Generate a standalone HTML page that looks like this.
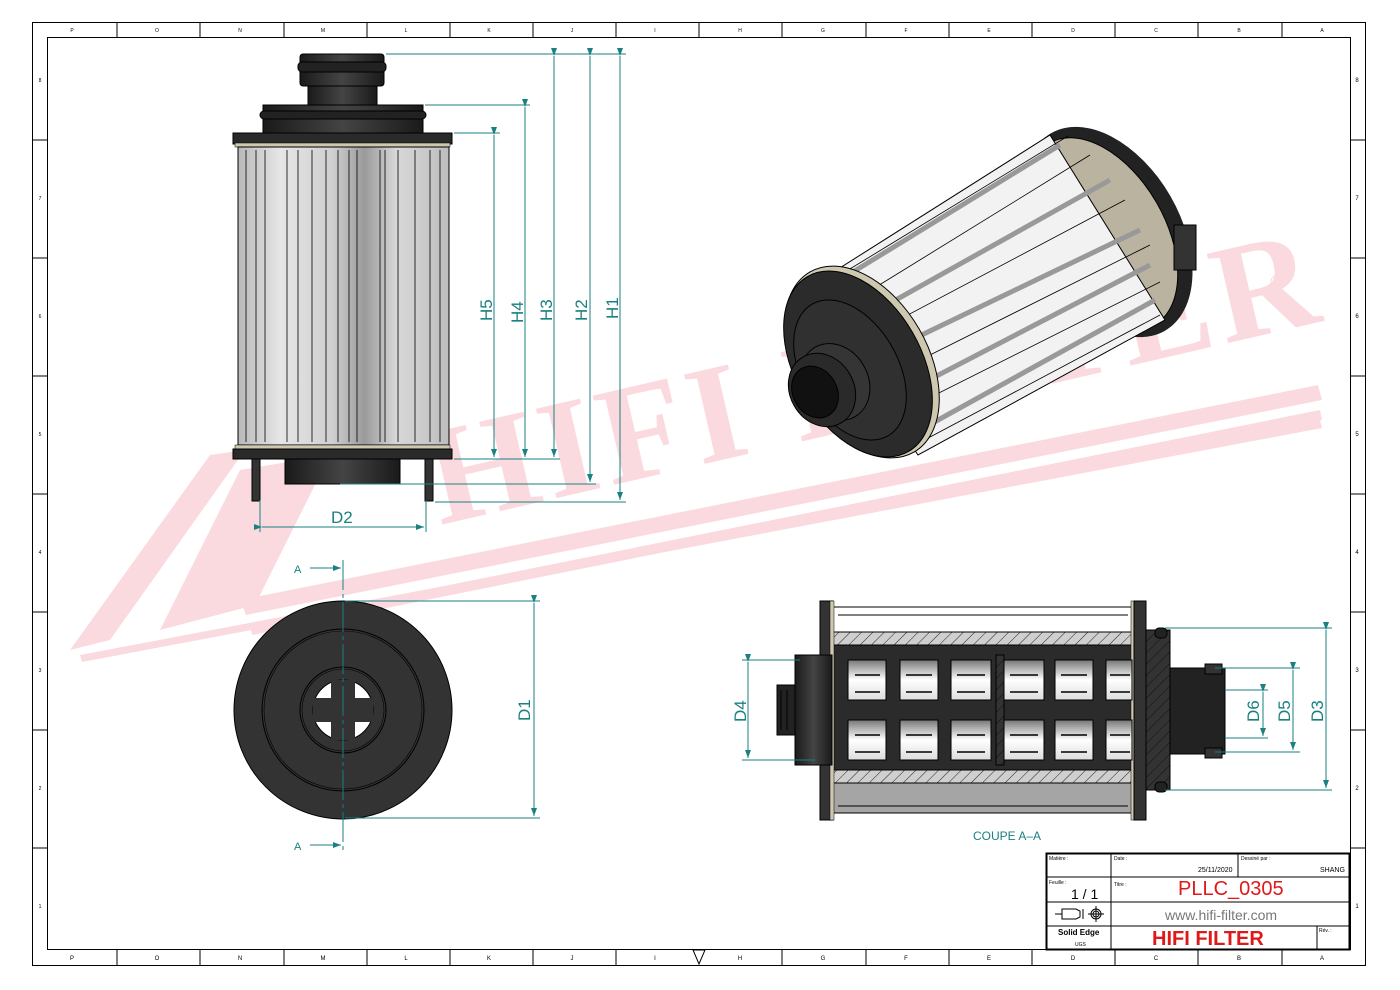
<!DOCTYPE html>
<html><head><meta charset="utf-8"><style>
html,body{margin:0;padding:0;background:#fff}
svg{display:block}
text{font-family:"Liberation Sans",sans-serif}
</style></head><body>
<svg width="1400" height="990" viewBox="0 0 1400 990" xmlns="http://www.w3.org/2000/svg">
<defs>
<linearGradient id="body" x1="0" x2="1" y1="0" y2="0">
<stop offset="0" stop-color="#b8b8b8"/><stop offset="0.2" stop-color="#e6e6e6"/><stop offset="0.45" stop-color="#cfcfcf"/><stop offset="0.6" stop-color="#9a9a9a"/><stop offset="0.75" stop-color="#d8d8d8"/><stop offset="1" stop-color="#bdbdbd"/>
</linearGradient>
<linearGradient id="dark" x1="0" x2="1"><stop offset="0" stop-color="#1a1a1a"/><stop offset="0.5" stop-color="#444"/><stop offset="1" stop-color="#1a1a1a"/></linearGradient>
<linearGradient id="win" x1="0" x2="0" y1="0" y2="1"><stop offset="0" stop-color="#777"/><stop offset="0.5" stop-color="#fff"/><stop offset="1" stop-color="#ddd"/></linearGradient>
<pattern id="hatch" width="8" height="8" patternUnits="userSpaceOnUse" patternTransform="rotate(45)"><rect width="8" height="8" fill="#cfcfcf"/><line x1="0" y1="0" x2="0" y2="8" stroke="#222" stroke-width="1"/></pattern>
<pattern id="hatchd" width="8" height="8" patternUnits="userSpaceOnUse" patternTransform="rotate(45)"><rect width="8" height="8" fill="#333"/><line x1="0" y1="0" x2="0" y2="8" stroke="#111" stroke-width="1"/></pattern>
<marker id="ar" markerWidth="8" markerHeight="6" refX="8" refY="3" orient="auto" markerUnits="userSpaceOnUse"><path d="M0,0 L8,3 L0,6z" fill="#1a8080"/></marker>
</defs>

<!-- frame -->
<rect x="32.5" y="22.5" width="1333" height="943" fill="none" stroke="#000"/>
<rect x="47.5" y="37.5" width="1303" height="912" fill="none" stroke="#000"/>
<g stroke="#000">
<line x1="117" y1="22" x2="117" y2="37"/><line x1="200" y1="22" x2="200" y2="37"/><line x1="284" y1="22" x2="284" y2="37"/><line x1="367" y1="22" x2="367" y2="37"/><line x1="450" y1="22" x2="450" y2="37"/><line x1="533" y1="22" x2="533" y2="37"/><line x1="616" y1="22" x2="616" y2="37"/><line x1="699" y1="22" x2="699" y2="37"/><line x1="782" y1="22" x2="782" y2="37"/><line x1="866" y1="22" x2="866" y2="37"/><line x1="949" y1="22" x2="949" y2="37"/><line x1="1032" y1="22" x2="1032" y2="37"/><line x1="1115" y1="22" x2="1115" y2="37"/><line x1="1198" y1="22" x2="1198" y2="37"/><line x1="1282" y1="22" x2="1282" y2="37"/>
<line x1="117" y1="950" x2="117" y2="966"/><line x1="200" y1="950" x2="200" y2="966"/><line x1="284" y1="950" x2="284" y2="966"/><line x1="367" y1="950" x2="367" y2="966"/><line x1="450" y1="950" x2="450" y2="966"/><line x1="533" y1="950" x2="533" y2="966"/><line x1="616" y1="950" x2="616" y2="966"/><line x1="782" y1="950" x2="782" y2="966"/><line x1="866" y1="950" x2="866" y2="966"/><line x1="949" y1="950" x2="949" y2="966"/><line x1="1032" y1="950" x2="1032" y2="966"/><line x1="1115" y1="950" x2="1115" y2="966"/><line x1="1198" y1="950" x2="1198" y2="966"/><line x1="1282" y1="950" x2="1282" y2="966"/>
<line x1="32" y1="140" x2="47" y2="140"/><line x1="32" y1="258" x2="47" y2="258"/><line x1="32" y1="376" x2="47" y2="376"/><line x1="32" y1="494" x2="47" y2="494"/><line x1="32" y1="612" x2="47" y2="612"/><line x1="32" y1="730" x2="47" y2="730"/><line x1="32" y1="848" x2="47" y2="848"/>
<line x1="1350" y1="140" x2="1366" y2="140"/><line x1="1350" y1="258" x2="1366" y2="258"/><line x1="1350" y1="376" x2="1366" y2="376"/><line x1="1350" y1="494" x2="1366" y2="494"/><line x1="1350" y1="612" x2="1366" y2="612"/><line x1="1350" y1="730" x2="1366" y2="730"/><line x1="1350" y1="848" x2="1366" y2="848"/>
</g>
<g font-size="6" fill="#000" text-anchor="middle">
<text x="72" y="960">P</text><text x="157" y="960">O</text><text x="240" y="960">N</text><text x="323" y="960">M</text><text x="406" y="960">L</text><text x="489" y="960">K</text><text x="572" y="960">J</text><text x="655" y="960">I</text><text x="740" y="960">H</text><text x="823" y="960">G</text><text x="906" y="960">F</text><text x="989" y="960">E</text><text x="1073" y="960">D</text><text x="1156" y="960">C</text><text x="1239" y="960">B</text><text x="1322" y="960">A</text>
<text x="1357" y="82">8</text><text x="1357" y="200">7</text><text x="1357" y="318">6</text><text x="1357" y="436">5</text><text x="1357" y="554">4</text><text x="1357" y="672">3</text><text x="1357" y="790">2</text><text x="1357" y="908">1</text>
</g>
<g font-size="5" fill="#000" text-anchor="middle">
<text x="72" y="32">P</text><text x="157" y="32">O</text><text x="240" y="32">N</text><text x="323" y="32">M</text><text x="406" y="32">L</text><text x="489" y="32">K</text><text x="572" y="32">J</text><text x="655" y="32">I</text><text x="740" y="32">H</text><text x="823" y="32">G</text><text x="906" y="32">F</text><text x="989" y="32">E</text><text x="1073" y="32">D</text><text x="1156" y="32">C</text><text x="1239" y="32">B</text><text x="1322" y="32">A</text>
<text x="40" y="82">8</text><text x="40" y="200">7</text><text x="40" y="318">6</text><text x="40" y="436">5</text><text x="40" y="554">4</text><text x="40" y="672">3</text><text x="40" y="790">2</text><text x="40" y="908">1</text>
</g>
<path d="M693,950 L705,950 L699,964z" fill="none" stroke="#000"/>

<!-- watermark -->
<g fill="#fbdadf">
<polygon points="70,650 210,455 245,450 110,640"/>
<polygon points="160,630 240,470 330,455 255,605"/>
<polygon points="240,600 1318,385 1322,400 246,615"/>
<polygon points="250,625 1320,410 1322,420 252,635"/>
<polygon points="80,655 1320,420 1322,428 82,662"/>
</g>
<text x="0" y="0" transform="translate(440,525) rotate(-13)" style="font-family:'Liberation Serif',serif;font-weight:bold" font-size="140" fill="#fbdadf" letter-spacing="6">HIFI FILTER</text>
<text x="1270" y="290" font-size="22" fill="#fbdadf">®</text>

<!-- FRONT VIEW -->
<rect x="300" y="54" width="84" height="32" rx="3" fill="url(#dark)" stroke="#000"/>
<rect x="298" y="62" width="88" height="10" rx="4" fill="#222" stroke="#000"/>
<rect x="308" y="86" width="69" height="20" fill="url(#dark)" stroke="#000"/>
<rect x="263" y="105" width="160" height="28" fill="url(#dark)" stroke="#000"/>
<rect x="260" y="111" width="166" height="8" rx="4" fill="#222" stroke="#000"/>
<rect x="233" y="133" width="219" height="11" fill="#2a2a2a" stroke="#000"/>
<rect x="235" y="143" width="215" height="4" fill="#cfc8b0" stroke="#000" stroke-width="0.5"/>
<rect x="238" y="147" width="211" height="298" fill="url(#body)" stroke="#000"/>
<g stroke="#000" stroke-width="0.8">
<line x1="246" y1="150" x2="246" y2="442"/><line x1="256" y1="150" x2="256" y2="442"/><line x1="265" y1="150" x2="265" y2="442"/><line x1="287" y1="150" x2="287" y2="442"/><line x1="298" y1="150" x2="298" y2="442"/><line x1="312" y1="150" x2="312" y2="442"/><line x1="326" y1="150" x2="326" y2="442"/><line x1="338" y1="150" x2="338" y2="442"/><line x1="349" y1="150" x2="349" y2="442"/><line x1="357" y1="150" x2="357" y2="442"/><line x1="380" y1="150" x2="380" y2="442"/><line x1="385" y1="150" x2="385" y2="442"/><line x1="398" y1="150" x2="398" y2="442"/><line x1="415" y1="150" x2="415" y2="442"/><line x1="430" y1="150" x2="430" y2="442"/><line x1="440" y1="150" x2="440" y2="442"/>
</g>
<rect x="235" y="445" width="215" height="5" fill="#cfc8b0" stroke="#000" stroke-width="0.5"/>
<rect x="233" y="449" width="219" height="10" fill="#2a2a2a" stroke="#000"/>
<rect x="285" y="459" width="115" height="25" fill="url(#dark)" stroke="#000"/>
<rect x="252" y="459" width="8" height="42" fill="#333" stroke="#000"/>
<rect x="425" y="459" width="8" height="42" fill="#333" stroke="#000"/>

<!-- front dims -->
<g stroke="#1a8080" stroke-width="1" fill="none">
<line x1="386" y1="54" x2="626" y2="54"/>
<line x1="425" y1="105" x2="530" y2="105"/>
<line x1="454" y1="133" x2="500" y2="133"/>
<line x1="454" y1="459" x2="560" y2="459"/>
<line x1="340" y1="484" x2="596" y2="484"/>
<line x1="435" y1="502" x2="626" y2="502"/>
<line x1="620" y1="56" x2="620" y2="500" marker-start="url(#ar)" marker-end="url(#ar)"/>
<line x1="590" y1="56" x2="590" y2="482" marker-start="url(#ar)" marker-end="url(#ar)"/>
<line x1="554" y1="56" x2="554" y2="457" marker-start="url(#ar)" marker-end="url(#ar)"/>
<line x1="525" y1="107" x2="525" y2="457" marker-start="url(#ar)" marker-end="url(#ar)"/>
<line x1="494" y1="135" x2="494" y2="457" marker-start="url(#ar)" marker-end="url(#ar)"/>
<line x1="260" y1="500" x2="260" y2="532"/><line x1="426" y1="500" x2="426" y2="532"/>
<line x1="262" y1="527" x2="424" y2="527" marker-start="url(#ar)" marker-end="url(#ar)"/>
</g>
<g fill="#1a8080" font-size="17">
<text transform="translate(492,321) rotate(-90)">H5</text>
<text transform="translate(523,323) rotate(-90)">H4</text>
<text transform="translate(552,321) rotate(-90)">H3</text>
<text transform="translate(587,321) rotate(-90)">H2</text>
<text transform="translate(618,319) rotate(-90)">H1</text>
<text x="331" y="523">D2</text>
</g>

<!-- BOTTOM VIEW -->
<circle cx="343" cy="710" r="109" fill="#333" stroke="#000"/>
<circle cx="343" cy="710" r="81" fill="none" stroke="#000"/>
<circle cx="343" cy="710" r="79" fill="none" stroke="#000" stroke-width="0.6"/>
<circle cx="343" cy="710" r="43" fill="none" stroke="#000"/>
<circle cx="343" cy="710" r="41" fill="none" stroke="#000" stroke-width="0.6"/>
<circle cx="343" cy="710" r="30" fill="#fff" stroke="#000"/>
<rect x="331" y="680" width="24" height="60" fill="#333"/>
<rect x="313" y="698" width="60" height="24" fill="#333"/>
<g stroke="#1a8080" fill="none">
<line x1="343" y1="560" x2="343" y2="852" stroke-dasharray="30,4,4,4"/>
<line x1="345" y1="601" x2="540" y2="601"/>
<line x1="345" y1="818" x2="540" y2="818"/>
<line x1="534" y1="603" x2="534" y2="816" marker-start="url(#ar)" marker-end="url(#ar)"/>
<line x1="310" y1="568" x2="341" y2="568" marker-end="url(#ar)"/>
<line x1="310" y1="845" x2="341" y2="845" marker-end="url(#ar)"/>
</g>
<g fill="#1a8080">
<text x="294" y="573" font-size="11">A</text><text x="294" y="850" font-size="11">A</text>
<text transform="translate(530,721) rotate(-90)" font-size="17">D1</text>
</g>

<!-- 3D VIEW -->
<g>
<ellipse cx="1108" cy="232" rx="72" ry="114" transform="rotate(-30 1108 232)" fill="#222"/>
<ellipse cx="1102" cy="234" rx="63" ry="105" transform="rotate(-30 1102 234)" fill="#b9b39f" stroke="#000"/>
<rect x="1174" y="225" width="22" height="45" fill="#333" stroke="#000"/>
<polygon points="805,290 1050,135 1165,320 918,455" fill="#f2f2f2" stroke="#000"/>
<g stroke="#999" stroke-width="5">
<line x1="835" y1="283" x2="1060" y2="145"/><line x1="860" y1="320" x2="1110" y2="180"/><line x1="880" y1="355" x2="1140" y2="230"/><line x1="900" y1="395" x2="1150" y2="265"/><line x1="920" y1="430" x2="1155" y2="300"/>
</g>
<g stroke="#000" stroke-width="0.8">
<line x1="840" y1="275" x2="1068" y2="136"/><line x1="855" y1="300" x2="1090" y2="155"/><line x1="870" y1="335" x2="1125" y2="200"/><line x1="890" y1="375" x2="1150" y2="245"/><line x1="905" y1="410" x2="1160" y2="282"/><line x1="915" y1="445" x2="1160" y2="315"/>
</g>
<ellipse cx="862" cy="362" rx="66" ry="104" transform="rotate(-30 862 362)" fill="#cfc8b0" stroke="#000"/>
<ellipse cx="858" cy="364" rx="63" ry="101" transform="rotate(-30 858 364)" fill="#2b2b2b" stroke="#000"/>
<ellipse cx="850" cy="370" rx="48" ry="76" transform="rotate(-30 850 370)" fill="#303030" stroke="#000"/>
<ellipse cx="835" cy="382" rx="33" ry="40" transform="rotate(-30 835 382)" fill="#353535" stroke="#000"/>
<ellipse cx="822" cy="390" rx="32" ry="38" transform="rotate(-30 822 390)" fill="#2a2a2a" stroke="#000"/>
<ellipse cx="815" cy="392" rx="22" ry="27" transform="rotate(-30 815 392)" fill="#111" stroke="#000"/>
</g>

<!-- SECTION VIEW -->
<g stroke="#000">
<rect x="830" y="607" width="303" height="26" fill="#fff"/>
<line x1="838" y1="615" x2="1128" y2="615"/>
<rect x="830" y="632" width="303" height="13" fill="url(#hatch)"/>
<rect x="830" y="645" width="303" height="125" fill="#2b2b2b"/>
<rect x="830" y="770" width="303" height="13" fill="url(#hatch)"/>
<rect x="830" y="783" width="303" height="30" fill="#a5a5a5"/>
<line x1="838" y1="806" x2="1128" y2="806"/>
<rect x="996" y="655" width="8" height="110" fill="url(#hatchd)"/>
<rect x="820" y="601" width="13" height="219" fill="#333"/>
<rect x="830" y="601" width="4" height="219" fill="#cfc8b0" stroke-width="0.5"/>
<rect x="1131" y="601" width="4" height="219" fill="#cfc8b0" stroke-width="0.5"/>
<rect x="1134" y="601" width="12" height="219" fill="#333"/>
<rect x="1146" y="630" width="24" height="160" fill="url(#hatchd)"/>
<rect x="1170" y="668" width="55" height="86" fill="#222"/>
<rect x="1205" y="664" width="17" height="10" fill="#333"/>
<rect x="1205" y="748" width="17" height="10" fill="#333"/>
<rect x="795" y="655" width="37" height="110" fill="url(#dark)"/>
<rect x="777" y="685" width="18" height="50" fill="#222"/>
<line x1="781" y1="690" x2="781" y2="730"/><line x1="787" y1="690" x2="787" y2="730"/>
<rect x="1155" y="628" width="12" height="10" rx="4" fill="#222"/>
<rect x="1155" y="782" width="12" height="10" rx="4" fill="#222"/>
</g>
<g stroke="#000" fill="url(#win)">
<rect x="848" y="660" width="38" height="40"/><rect x="900" y="660" width="38" height="40"/><rect x="951" y="660" width="40" height="40"/><rect x="1004" y="660" width="40" height="40"/><rect x="1055" y="660" width="38" height="40"/><rect x="1106" y="660" width="26" height="40"/>
<rect x="848" y="720" width="38" height="40"/><rect x="900" y="720" width="38" height="40"/><rect x="951" y="720" width="40" height="40"/><rect x="1004" y="720" width="40" height="40"/><rect x="1055" y="720" width="38" height="40"/><rect x="1106" y="720" width="26" height="40"/>
</g>
<g stroke="#000" stroke-width="1.5">
<line x1="855" y1="675" x2="880" y2="675"/><line x1="906" y1="675" x2="932" y2="675"/><line x1="957" y1="675" x2="985" y2="675"/><line x1="1010" y1="675" x2="1038" y2="675"/><line x1="1061" y1="675" x2="1087" y2="675"/><line x1="1110" y1="675" x2="1130" y2="675"/>
<line x1="855" y1="692" x2="880" y2="692"/><line x1="906" y1="692" x2="932" y2="692"/><line x1="957" y1="692" x2="985" y2="692"/><line x1="1010" y1="692" x2="1038" y2="692"/><line x1="1061" y1="692" x2="1087" y2="692"/><line x1="1110" y1="692" x2="1130" y2="692"/>
<line x1="855" y1="735" x2="880" y2="735"/><line x1="906" y1="735" x2="932" y2="735"/><line x1="957" y1="735" x2="985" y2="735"/><line x1="1010" y1="735" x2="1038" y2="735"/><line x1="1061" y1="735" x2="1087" y2="735"/><line x1="1110" y1="735" x2="1130" y2="735"/>
<line x1="855" y1="752" x2="880" y2="752"/><line x1="906" y1="752" x2="932" y2="752"/><line x1="957" y1="752" x2="985" y2="752"/><line x1="1010" y1="752" x2="1038" y2="752"/><line x1="1061" y1="752" x2="1087" y2="752"/><line x1="1110" y1="752" x2="1130" y2="752"/>
</g>
<g stroke="#1a8080" fill="none">
<line x1="742" y1="660" x2="800" y2="660"/><line x1="742" y1="760" x2="815" y2="760"/>
<line x1="748" y1="662" x2="748" y2="758" marker-start="url(#ar)" marker-end="url(#ar)"/>
<line x1="1165" y1="628" x2="1332" y2="628"/><line x1="1165" y1="790" x2="1332" y2="790"/>
<line x1="1326" y1="630" x2="1326" y2="788" marker-start="url(#ar)" marker-end="url(#ar)"/>
<line x1="1215" y1="668" x2="1300" y2="668"/><line x1="1215" y1="752" x2="1300" y2="752"/>
<line x1="1293" y1="670" x2="1293" y2="750" marker-start="url(#ar)" marker-end="url(#ar)"/>
<line x1="1225" y1="690" x2="1268" y2="690"/><line x1="1225" y1="738" x2="1268" y2="738"/>
<line x1="1263" y1="692" x2="1263" y2="736" marker-start="url(#ar)" marker-end="url(#ar)"/>
</g>
<g fill="#1a8080" font-size="17">
<text transform="translate(746,722) rotate(-90)">D4</text>
<text transform="translate(1259,722) rotate(-90)">D6</text>
<text transform="translate(1290,722) rotate(-90)">D5</text>
<text transform="translate(1323,722) rotate(-90)">D3</text>
<text x="973" y="840" font-size="12">COUPE A–A</text>
</g>

<!-- TITLE BLOCK -->
<g stroke="#000" fill="none">
<rect x="1046.5" y="853.5" width="303" height="96" stroke-width="2"/>
<line x1="1046" y1="877" x2="1350" y2="877"/>
<line x1="1046" y1="902" x2="1350" y2="902"/>
<line x1="1046" y1="926" x2="1350" y2="926"/>
<line x1="1111" y1="853" x2="1111" y2="950"/>
<line x1="1238" y1="853" x2="1238" y2="877"/>
<line x1="1317" y1="926" x2="1317" y2="950"/>
</g>
<g font-size="5" fill="#000">
<text x="1049" y="860">Matière :</text><text x="1114" y="860">Date :</text><text x="1241" y="860">Dessiné par :</text>
<text x="1049" y="884">Feuille :</text><text x="1114" y="886">Titre :</text><text x="1319" y="932">Rév. :</text>
</g>
<text x="1198" y="872" font-size="7">25/11/2020</text>
<text x="1320" y="872" font-size="7">SHANG</text>
<text x="1071" y="899" font-size="14">1 / 1</text>
<text x="1178" y="895" font-size="20" fill="#e01818">PLLC_0305</text>
<text x="1165" y="920" font-size="14" fill="#777">www.hifi-filter.com</text>
<text x="1152" y="945" font-size="20" font-weight="bold" fill="#e01818">HIFI FILTER</text>
<text x="1058" y="935" font-size="8" font-weight="bold">Solid Edge</text>
<text x="1075" y="946" font-size="5">UGS</text>
<g stroke="#000" fill="none">
<path d="M1055,914 L1062,914 M1062,909 L1076,909 L1080,911 L1080,917 L1076,919 L1062,919z M1083,909 L1083,919"/>
<circle cx="1096" cy="914" r="5"/><circle cx="1096" cy="914" r="3"/>
<line x1="1088" y1="914" x2="1104" y2="914"/><line x1="1096" y1="906" x2="1096" y2="922"/>
</g>
</svg>
</body></html>
